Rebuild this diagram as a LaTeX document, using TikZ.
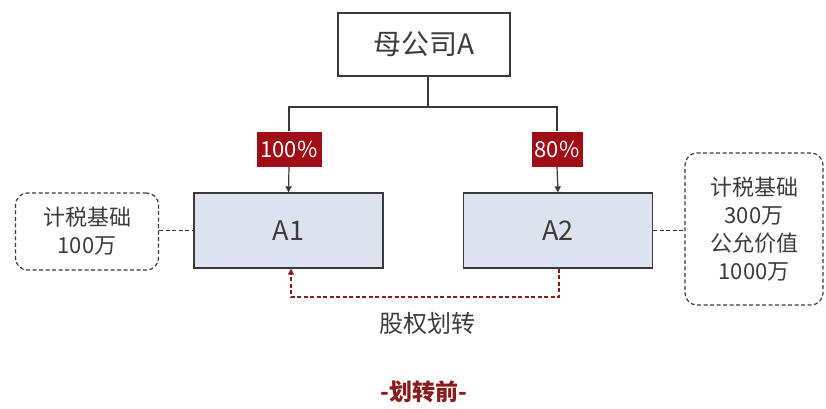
\documentclass[tikz,border=0pt]{standalone}
\usepackage{fontspec}
\setmainfont{Noto Sans CJK SC}
\usetikzlibrary{arrows.meta}
\definecolor{boxfill}{HTML}{DCE3EE}
\definecolor{edge}{HTML}{3A3A3A}
\definecolor{tagred}{HTML}{A10D16}
\definecolor{txt}{HTML}{3C3C3C}
\definecolor{darkred}{HTML}{8E1B1B}
\tikzset{
  company/.style={draw=edge, line width=1.3pt, fill=boxfill, minimum width=189pt, minimum height=75pt, font=\fontsize{27}{30}\selectfont, text=txt, inner sep=0pt},
  topbox/.style={draw=edge, line width=1.3pt, fill=white, minimum width=172pt, minimum height=63pt, font=\fontsize{28}{30}\selectfont, text=txt, inner sep=0pt},
  tag/.style={fill=tagred, text=white, font=\fontsize{22}{24}\selectfont, inner sep=0pt, minimum height=35pt},
  note/.style={draw=edge, dashed, dash pattern=on 4pt off 2.5pt, line width=1.2pt, rounded corners=12pt, align=center, text=txt, font=\fontsize{22}{28}\selectfont, inner sep=0pt},
  link/.style={draw=edge, line width=1.2pt},
  dlink/.style={draw=edge, line width=1.2pt, dash pattern=on 4pt off 2.5pt},
  moveline/.style={draw=darkred, line width=1.4pt, dash pattern=on 4pt off 2.5pt},
}
\begin{document}
\begin{tikzpicture}[x=1pt,y=-1pt]
\useasboundingbox (0,0) rectangle (826,408);
\node[topbox] (P) at (424,44.5) {母公司A};
\node[company] (A1) at (288.5,230.5) {A1};
\node[company] (A2) at (558,230.5) {A2};
\node[tag, minimum width=65pt] (t1) at (289,149) {100\%};
\node[tag, minimum width=51pt] (t2) at (557,149) {80\%};
\node[note, minimum width=143pt, minimum height=77pt] (n1) at (87,231.5) {计税基础\\100万};
\node[note, minimum width=138pt, minimum height=152pt] (n2) at (754,229) {计税基础\\300万\\公允价值\\1000万};
\coordinate (j) at (428,107);
\draw[link] (P.south -| j) -- (j);
\draw[link] (j) -- (j -| t1) -- (t1.north);
\draw[link] (j) -- (j -| t2) -- (t2.north);
\draw[link, -{Triangle[length=6pt,width=6pt]}] (t1.south) -- (A1.north);
\draw[link, -{Triangle[length=6pt,width=6pt]}] (t2.south) -- (A2.north);
\draw[dlink] (n1.east |- A1.west) -- (A1.west);
\draw[dlink] (A2.east) -- (n2.west |- A2.east);
\coordinate (r1) at (559,297);
\coordinate (r2) at (291,297);
\draw[moveline, -{Triangle[length=6pt,width=6pt]}] (A2.south -| r1) -- (r1) -- (r2) -- (A1.south -| r2);
\node[text=txt, font=\fontsize{24}{28}\selectfont] (lbl) at (427,323) {股权划转};
\node[text=darkred, font=\bfseries\fontsize{23}{28}\selectfont] (cap) at (424,392) {-划转前-};
\end{tikzpicture}
\end{document}
